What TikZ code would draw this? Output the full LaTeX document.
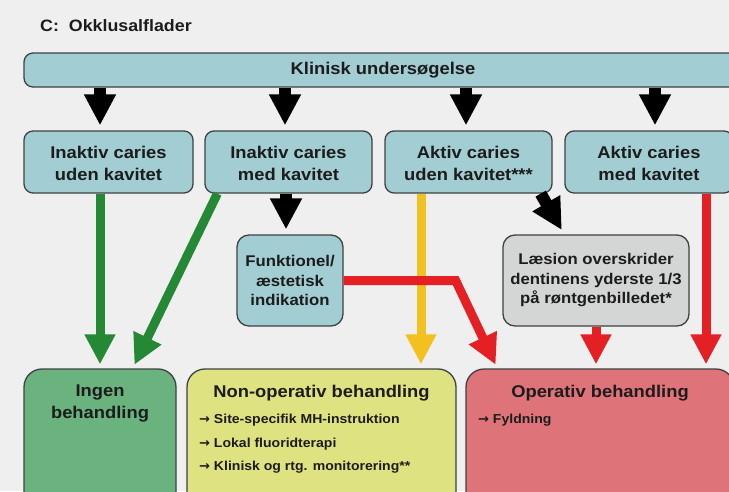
\documentclass[tikz,border=0pt]{standalone}
\usepackage{fontspec}
\setmainfont[FakeStretch=1.08]{Liberation Sans}
\newfontfamily\arrowfont{DejaVu Sans}
\usetikzlibrary{arrows.meta,positioning}
\definecolor{bg}{RGB}{239,239,239}
\definecolor{boxline}{RGB}{62,66,66}
\definecolor{txt}{RGB}{28,28,28}
\definecolor{tealbox}{RGB}{162,205,210}
\definecolor{greybox}{RGB}{212,214,214}
\definecolor{greenbox}{RGB}{106,178,126}
\definecolor{yellowbox}{RGB}{222,226,128}
\definecolor{redbox}{RGB}{222,116,121}
\definecolor{arrgreen}{RGB}{36,136,52}
\definecolor{arryellow}{RGB}{242,192,32}
\definecolor{arrred}{RGB}{228,32,36}
\newcommand{\itemarrow}{{\arrowfont\bfseries →}\ }

\begin{document}
\begin{tikzpicture}[x=1pt,y=-1pt,
        box/.style={draw=boxline,line width=1.3pt,rounded corners=9pt,
            text=txt,align=center,inner sep=0pt,
            font=\fontsize{17}{22}\selectfont\bfseries},
        smallbox/.style={box,rounded corners=12pt,
            font=\fontsize{15.5}{19.5}\selectfont\bfseries},
        boxtext/.style={text=txt,align=center,inner sep=0pt,
            font=\fontsize{17}{22}\selectfont\bfseries},
        itemtext/.style={text=txt,anchor=west,inner sep=0pt,
            font=\fontsize{13}{16}\selectfont\bfseries},
        blackarrow/.style={line width=12pt,
            -{Triangle[length=31pt,width=30pt]},shorten >=5pt},
        colarrow/.style={line width=9pt,
            -{Triangle[length=30pt,width=29pt]},shorten >=4pt}]
    \useasboundingbox (0,0) rectangle (729,491);
    \clip (0,0) rectangle (729,491);
    \fill [bg] (0,0) rectangle (729,491);

    % title and first row
    \node (title) [anchor=west,text=txt,inner sep=0pt,
        font=\fontsize{16.5}{19}\selectfont\bfseries] at (40,26) {C:\ \ Okklusalflader};
    \node (klinisk) [box,fill=tealbox,minimum width=718pt,minimum height=34pt] at (383,70)
        {Klinisk undersøgelse};

    % diagnoses
    \node (inudk) [box,fill=tealbox,minimum width=169pt,minimum height=62pt] at (108.5,162)
        {\strut Inaktiv caries\\uden kavitet};
    \node (inmed) [box,fill=tealbox,minimum width=167pt,minimum height=62pt] at (288.5,162)
        {\strut Inaktiv caries\\med kavitet};
    \node (akud) [box,fill=tealbox,minimum width=167pt,minimum height=62pt] at (468.5,162)
        {\strut Aktiv caries\\uden kavitet***};
    \node (akmed) [box,fill=tealbox,minimum width=168pt,minimum height=62pt] at (649,162)
        {\strut Aktiv caries\\med kavitet};

    % second step
    \node (funk) [smallbox,fill=tealbox,minimum width=106pt,minimum height=91pt] at (290,280.5)
        {Funktionel/\\æstetisk\\indikation};
    \node (laesion) [smallbox,fill=greybox,minimum width=186pt,minimum height=91pt] at (596,280.5)
        {Læsion overskrider\\dentinens yderste 1/3\\på røntgenbilledet*};

    % treatments
    \node (ingen) [box,fill=greenbox,rounded corners=18pt,minimum width=152pt,minimum height=150pt] at (100,444) {};
    \node (nonop) [box,fill=yellowbox,rounded corners=18pt,minimum width=269pt,minimum height=150pt] at (321.5,444) {};
    \node (oper) [box,fill=redbox,rounded corners=18pt,minimum width=268pt,minimum height=150pt] at (600,444) {};

    \node (ingentxt) [boxtext,below=16pt of ingen.north] {Ingen\\behandling};
    \node (noptxt) [boxtext,below=17pt of nonop.north] {Non-operativ behandling};
    \node (optxt) [boxtext,below=17pt of oper.north] {Operativ behandling};
    \node (nop1) [itemtext] at (199,420) {\itemarrow Site-specifik MH-instruktion};
    \node (nop2) [itemtext] at (199,444) {\itemarrow Lokal fluoridterapi};
    \node (nop3) [itemtext] at (199,467) {\itemarrow Klinisk og rtg. monitorering**};
    \node (op1) [itemtext] at (478,420) {\itemarrow Fyldning};

    % black arrows
    \draw [blackarrow] ([xshift=-8.5pt]inudk.north |- klinisk.south) -- ([xshift=-8.5pt]inudk.north);
    \draw [blackarrow] ([xshift=-3.5pt]inmed.north |- klinisk.south) -- ([xshift=-3.5pt]inmed.north);
    \draw [blackarrow] ([xshift=-2.5pt]akud.north |- klinisk.south) -- ([xshift=-2.5pt]akud.north);
    \draw [blackarrow] ([xshift=6pt]akmed.north |- klinisk.south) -- ([xshift=6pt]akmed.north);
    \draw [blackarrow] ([xshift=-4pt]funk.north |- inmed.south) -- ([xshift=-4pt]funk.north);
    \draw [blackarrow] ([xshift=-12pt]akud.south east) -- ([xshift=62pt]laesion.north west);

    % coloured arrows
    \draw [colarrow,arrgreen] (ingen.north |- inudk.south) -- (ingen.north);
    \draw [colarrow,arrgreen] ([xshift=13pt]inmed.south west) -- ([xshift=-44pt]ingen.north east);
    \draw [colarrow,arryellow] ([xshift=-47.5pt]akud.south) -- ([xshift=-47.5pt]akud.south |- nonop.north);
    \draw [colarrow,arrred,line join=miter] (funk.east) -- ++(112,0) -- ([xshift=32pt]oper.north west);
    \draw [colarrow,arrred] (laesion.south) -- (laesion.south |- oper.north);
    \draw [colarrow,arrred] ([xshift=57pt]akmed.south) -- ([xshift=57pt]akmed.south |- oper.north);
\end{tikzpicture}
\end{document}
